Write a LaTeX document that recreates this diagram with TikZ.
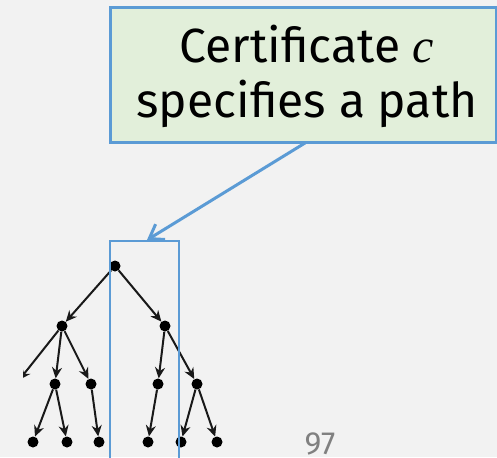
\documentclass[tikz,border=0pt]{standalone}
\usepackage{fontspec}
\setmainfont{Fira Sans}
\newfontfamily\serifit{Liberation Serif}
\usetikzlibrary{arrows.meta}
\definecolor{bg}{HTML}{F2F2F2}
\definecolor{boxfill}{HTML}{E2EFDA}
\definecolor{bblue}{HTML}{5B9BD5}
\begin{document}
\begin{tikzpicture}[x=1pt,y=-1pt,
  dot/.style={circle,fill=black,inner sep=0pt,minimum size=11pt},
  edge/.style={draw=black!90,line width=2pt,-{Stealth[length=11pt,width=10pt]}},
  callout/.style={draw=bblue,fill=boxfill,line width=3pt},
  hl/.style={draw=bblue,line width=2.2pt}]
\fill[bg] (0,0) rectangle (497,457);
\useasboundingbox (0,0) rectangle (497,457);
\begin{scope}
\clip (23,0) rectangle (497,457);
\node[dot] (r) at (115,266) {};
\node[dot] (a) at (62,326) {};
\node[dot] (b) at (165,326) {};
\node[dot] (a0) at (16,384) {};
\node[dot] (a1) at (55,384) {};
\node[dot] (a2) at (91,384) {};
\node[dot] (b1) at (158,384) {};
\node[dot] (b2) at (197,384) {};
\node[dot] (l1) at (33,442) {};
\node[dot] (l2) at (67,442) {};
\node[dot] (l3) at (99,442) {};
\node[dot] (l4) at (148,442) {};
\node[dot] (l5) at (181,442) {};
\node[dot] (l6) at (217,442) {};
\draw[edge] (r) -- (a);
\draw[edge] (r) -- (b);
\draw[edge] (a) -- (a0);
\draw[edge] (a) -- (a1);
\draw[edge] (a) -- (a2);
\draw[edge] (b) -- (b1);
\draw[edge] (b) -- (b2);
\draw[edge] (a1) -- (l1);
\draw[edge] (a1) -- (l2);
\draw[edge] (a2) -- (l3);
\draw[edge] (b1) -- (l4);
\draw[edge] (b2) -- (l5);
\draw[edge] (b2) -- (l6);
\end{scope}
\draw[hl] (110,241) rectangle (179,470);
\coordinate (tip) at (147,240);
\draw[callout] (110,8) rectangle (496,143);
\node[align=center,font=\fontsize{48}{55}\selectfont] (txt) at (307,76) {Certificate {\serifit\itshape c}\\specifies a path};
\coordinate (base) at (305,143);
\draw[bblue,line width=3pt,-{Straight Barb[length=13pt,width=18pt]}] (base) -- (tip);
\node[text=black!50,font=\fontsize{32}{32}\selectfont,anchor=base,inner sep=0pt] (pg) at (320,454) {97};
\end{tikzpicture}
\end{document}
